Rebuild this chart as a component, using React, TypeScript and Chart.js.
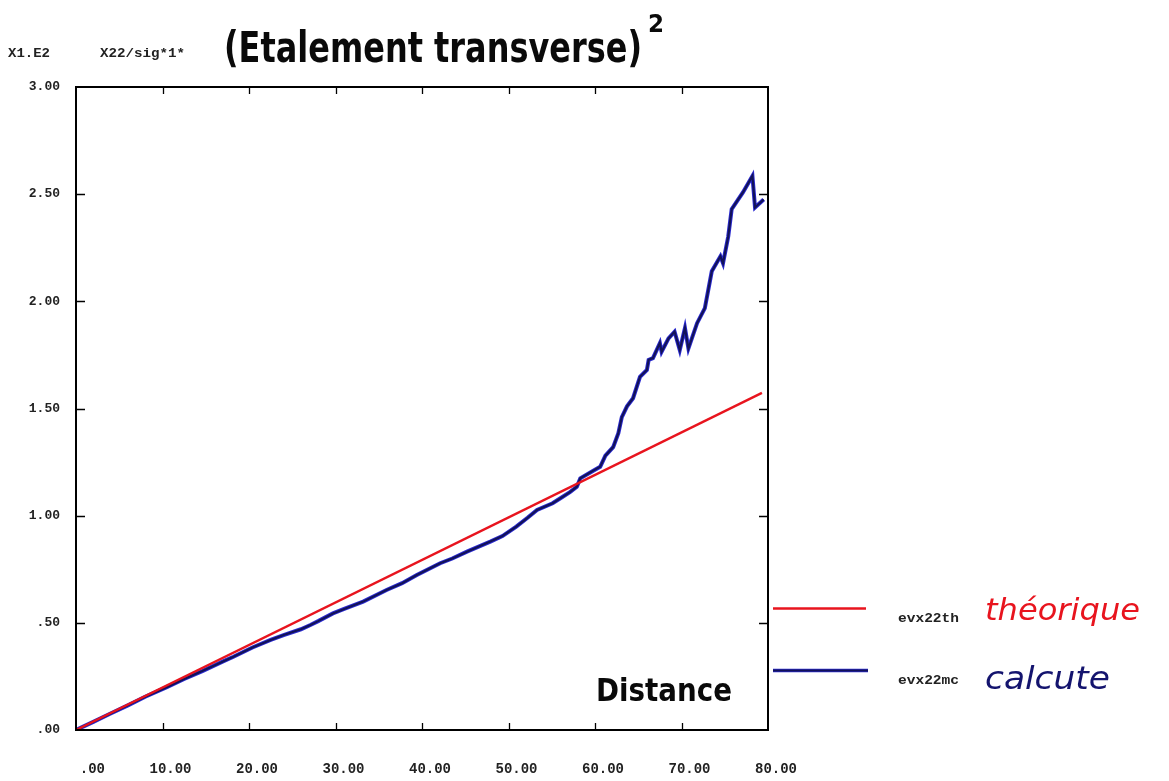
import React, { useEffect, useRef } from "react";
import { Chart, registerables } from "chart.js";

Chart.register(...registerables);

// Distance axis ticks and values
const xTicks = [0, 10, 20, 30, 40, 50, 60, 70, 80];
const yTicks = [0, 0.5, 1, 1.5, 2, 2.5, 3];

// theoretical line (evx22th)
const thDistance = [0, 79.3];
const thValues = [0, 1.573];

// computed curve (evx22mc)
const mcDistance = [
  0, 2, 4, 6, 8, 10.5, 12.5, 14.6, 17, 18.2, 20.4, 22.5, 24.0, 26, 27.1, 28, 29.7, 31, 33.2,
  35.9, 37.7, 39.4, 42.1, 43.5, 45.2, 47.9, 49.3, 50.9, 52.2, 53.3, 55.1, 56.0, 57.1, 57.9,
  58.3, 59.8, 60.6, 61.2, 62.1, 62.7, 63.1, 63.7, 64.4, 65.2, 66.0, 66.2, 66.7, 67.5, 67.7,
  68.5, 69.2, 69.8, 70.4, 70.8, 71.8, 72.7, 73.5, 74.5, 74.8, 75.4, 75.8, 77.1, 78.2, 78.5,
  79.5,
];
const mcValues = [
  0, 0.038, 0.077, 0.115, 0.155, 0.2, 0.238, 0.275, 0.32, 0.342, 0.385, 0.42, 0.443, 0.47,
  0.49, 0.508, 0.544, 0.565, 0.599, 0.653, 0.685, 0.723, 0.778, 0.8, 0.832, 0.879, 0.905,
  0.949, 0.99, 1.027, 1.058, 1.081, 1.11, 1.135, 1.174, 1.21, 1.228, 1.28, 1.32, 1.385, 1.46,
  1.51, 1.548, 1.648, 1.68, 1.727, 1.735, 1.805, 1.765, 1.827, 1.858, 1.773, 1.875, 1.78,
  1.898, 1.968, 2.14, 2.21, 2.178, 2.302, 2.43, 2.508, 2.585, 2.438, 2.475,
];

const seriesNames = ["evx22th", "evx22mc"];
const seriesNotes = ["théorique", "calcute"];

const RED = "#e8141e";
const NAVY = "#121258";
const BLUE_EDGE = "#2a2ad0";

function fmt(v: number): string {
  const s = v.toFixed(2);
  return s.startsWith("0.") ? s.slice(1) : s;
}

function fitText(
  ctx: CanvasRenderingContext2D,
  text: string,
  x: number,
  y: number,
  width: number,
  font: string,
  color: string
) {
  ctx.save();
  ctx.font = font;
  ctx.fillStyle = color;
  ctx.textBaseline = "alphabetic";
  ctx.textAlign = "left";
  const w = ctx.measureText(text).width || 1;
  ctx.translate(x, y);
  ctx.scale(width / w, 1);
  ctx.fillText(text, 0, 0);
  ctx.restore();
}

const decorPlugin = {
  id: "decor",
  afterDatasetsDraw(chart: any) {
    const ctx: CanvasRenderingContext2D = chart.ctx;
    const { left, right, top, bottom } = chart.chartArea;
    const xs = chart.scales.x;
    const ys = chart.scales.y;
    ctx.save();
    ctx.strokeStyle = "#000";
    ctx.lineWidth = 2;
    ctx.strokeRect(left, top, right - left, bottom - top);
    ctx.lineWidth = 1.3;
    ctx.beginPath();
    xTicks.slice(1, -1).forEach((t) => {
      const px = Math.round(xs.getPixelForValue(t)) + 0.5;
      ctx.moveTo(px, bottom);
      ctx.lineTo(px, bottom - 7);
      ctx.moveTo(px, top);
      ctx.lineTo(px, top + 7);
    });
    yTicks.slice(1, -1).forEach((t) => {
      const py = Math.round(ys.getPixelForValue(t)) + 0.5;
      ctx.moveTo(left, py);
      ctx.lineTo(left + 9, py);
      ctx.moveTo(right, py);
      ctx.lineTo(right - 9, py);
    });
    ctx.stroke();
    ctx.restore();

    // header texts
    fitText(ctx, "X1.E2", 8, 57, 42, 'bold 13px "Liberation Mono"', "#222");
    fitText(ctx, "X22/sig*1*", 100, 57, 85, 'bold 13px "Liberation Mono"', "#222");
    fitText(ctx, "(Etalement transverse)", 224, 62, 418, 'bold 42px "DejaVu Sans"', "#0a0a0a");
    fitText(ctx, "2", 648, 32, 16, 'bold 24px "DejaVu Sans"', "#0a0a0a");

    // axis caption inside plot
    fitText(ctx, "Distance", 596, 701, 136, 'bold 32px "DejaVu Sans"', "#0a0a0a");

    // legend
    ctx.save();
    ctx.lineCap = "butt";
    ctx.strokeStyle = RED;
    ctx.lineWidth = 2.6;
    ctx.beginPath();
    ctx.moveTo(773, 608.5);
    ctx.lineTo(866, 608.5);
    ctx.stroke();
    ctx.strokeStyle = BLUE_EDGE;
    ctx.lineWidth = 3.4;
    ctx.beginPath();
    ctx.moveTo(773, 670.5);
    ctx.lineTo(868, 670.5);
    ctx.stroke();
    ctx.strokeStyle = NAVY;
    ctx.lineWidth = 2;
    ctx.beginPath();
    ctx.moveTo(773, 670.5);
    ctx.lineTo(868, 670.5);
    ctx.stroke();
    ctx.restore();
    fitText(ctx, seriesNames[0], 898, 622, 61, 'bold 12px "Liberation Mono"', "#222");
    fitText(ctx, seriesNames[1], 898, 684, 61, 'bold 12px "Liberation Mono"', "#222");
    fitText(ctx, seriesNotes[0], 985, 620, 155, 'italic 30px "DejaVu Sans"', RED);
    fitText(ctx, seriesNotes[1], 985, 689, 125, 'italic 32px "DejaVu Sans"', "#14146e");
  },
};

export default function App() {
  const ref = useRef<HTMLCanvasElement | null>(null);
  useEffect(() => {
    if (!ref.current) return;
    const th = thDistance.map((x, i) => ({ x, y: thValues[i] }));
    const mc = mcDistance.map((x, i) => ({ x, y: mcValues[i] }));
    const chart = new Chart(ref.current, {
      type: "line",
      data: {
        datasets: [
          {
            label: seriesNames[0],
            data: th,
            borderColor: RED,
            borderWidth: 2.4,
            pointRadius: 0,
            tension: 0,
            order: 0,
          },
          {
            label: seriesNames[1],
            data: mc,
            borderColor: NAVY,
            borderWidth: 2.2,
            pointRadius: 0,
            tension: 0,
            order: 1,
          },
          {
            label: seriesNames[1] + "-edge",
            data: mc,
            borderColor: BLUE_EDGE,
            borderWidth: 4,
            pointRadius: 0,
            tension: 0,
            order: 2,
          },
        ],
      },
      options: {
        responsive: false,
        animation: false,
        devicePixelRatio: 1,
        layout: { padding: { left: 0, top: 87, right: 401, bottom: 0 } },
        plugins: {
          legend: { display: false },
          tooltip: { enabled: false },
          title: { display: false },
        },
        scales: {
          x: {
            type: "linear",
            min: 0,
            max: 80,
            afterFit: (s: any) => {
              s.height = 51;
            },
            afterBuildTicks: (s: any) => {
              s.ticks = xTicks.map((v) => ({ value: v }));
            },
            grid: { display: false, drawTicks: false },
            border: { display: false },
            ticks: {
              autoSkip: false,
              maxRotation: 0,
              padding: 31,
              labelOffset: 8,
              color: "#222",
              font: { family: "Liberation Mono", size: 14, weight: "bold" },
              callback: (v: any) => fmt(Number(v)).padStart(5, " "),
            },
          },
          y: {
            type: "linear",
            min: 0,
            max: 3,
            afterFit: (s: any) => {
              s.width = 76;
            },
            afterBuildTicks: (s: any) => {
              s.ticks = yTicks.map((v) => ({ value: v }));
            },
            grid: { display: false, drawTicks: false },
            border: { display: false },
            ticks: {
              padding: 16,
              color: "#222",
              font: { family: "Liberation Mono", size: 13, weight: "bold" },
              callback: (v: any) => fmt(Number(v)),
            },
          },
        },
      },
      plugins: [decorPlugin],
    });
    return () => chart.destroy();
  }, []);
  return (
    <div style={{ position: "absolute", left: 0, top: 0, width: 1169, height: 781, background: "#fff" }}>
      <canvas ref={ref} width={1169} height={781} style={{ display: "block", width: 1169, height: 781 }} />
    </div>
  );
}
